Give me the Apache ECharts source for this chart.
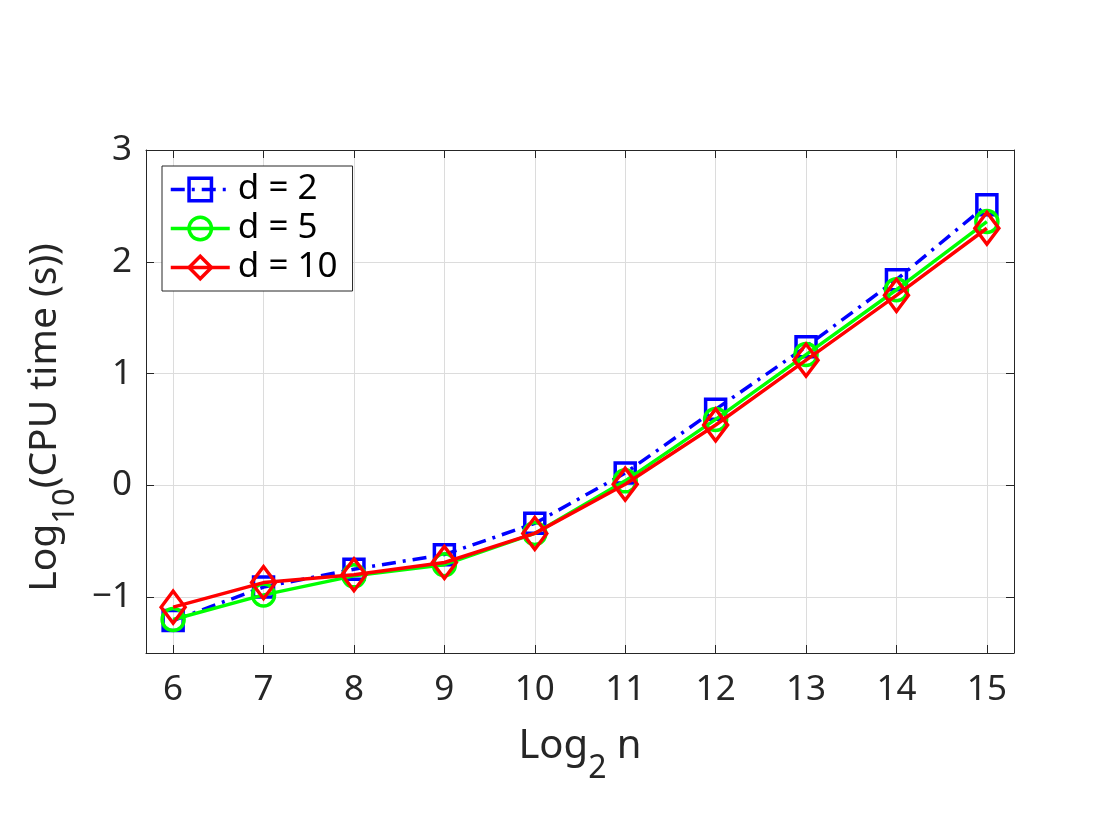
<!DOCTYPE html>
<html><head><meta charset="utf-8">
<script src="https://cdn.jsdelivr.net/npm/echarts@6/dist/echarts.min.js"></script>
<style>html,body{margin:0;padding:0;background:#fff}#c{width:1120px;height:840px}</style>
</head><body><div id="c"></div>
<script>
const xValues = [6, 7, 8, 9, 10, 11, 12, 13, 14, 15];
const d2 = [-1.21, -0.91, -0.75, -0.62, -0.34, 0.11, 0.68, 1.24, 1.84, 2.51];
const d5 = [-1.20, -0.98, -0.81, -0.71, -0.43, 0.04, 0.59, 1.17, 1.75, 2.36];
const d10 = [-1.09, -0.87, -0.80, -0.69, -0.43, 0.01, 0.54, 1.12, 1.70, 2.30];
const xTicks = [6, 7, 8, 9, 10, 11, 12, 13, 14, 15];
const yTicks = [-1, 0, 1, 2, 3];
const seriesNames = ['d = 2', 'd = 5', 'd = 10'];

const font = 'Noto Sans';
const axisColor = '#262626';
const pairs = arr => xValues.map((x, i) => [x, arr[i]]);

const titleRich = {
  a: {fontSize: 40, fontFamily: font, color: axisColor, verticalAlign: 'top'},
  b: {fontSize: 32, fontFamily: font, color: axisColor, verticalAlign: 'top', padding: [26, 0, 0, 0]}
};
const yTitleRich = {
  a: {fontSize: 39, fontFamily: font, color: axisColor, verticalAlign: 'top'},
  b: {fontSize: 31, fontFamily: font, color: axisColor, verticalAlign: 'top', padding: [25, 0, 0, 0]}
};

const baseX = {
  type: 'value', min: 5.7, max: 15.3,
  axisLine: {show: true, onZero: false, lineStyle: {color: axisColor, width: 1}},
  axisTick: {show: true, inside: true, length: 8, customValues: xTicks, lineStyle: {color: axisColor}},
  axisLabel: {customValues: xTicks, color: axisColor, fontSize: 35, fontFamily: font, margin: 20},
  splitLine: {show: true, lineStyle: {color: '#dcdcdc', width: 1}}
};
const baseY = {
  type: 'value', min: -1.5, max: 3,
  axisLine: {show: true, onZero: false, lineStyle: {color: axisColor, width: 1}},
  axisTick: {show: true, inside: true, length: 8, customValues: yTicks, lineStyle: {color: axisColor}},
  axisLabel: {customValues: yTicks, color: axisColor, fontSize: 35, fontFamily: font, margin: 14,
    formatter: v => (v < 0 ? '\u2212' + Math.abs(v) : String(v))},
  splitLine: {show: true, lineStyle: {color: '#dcdcdc', width: 1}}
};

const clear = 'rgba(255,255,255,0)';

const option = {
  backgroundColor: '#ffffff',
  animation: false,
  grid: {left: 146, right: 106, top: 150, bottom: 187, containLabel: false},
  xAxis: [
    Object.assign({}, baseX, {
      position: 'bottom',
      name: '{a|Log}{b|2}{a| n}',
      nameLocation: 'middle', nameGap: 74,
      nameTextStyle: {rich: titleRich}
    }),
    Object.assign({}, baseX, {
      position: 'top',
      axisLabel: {show: false},
      splitLine: {show: false}
    })
  ],
  yAxis: [
    Object.assign({}, baseY, {
      position: 'left',
      name: '{a|Log}{b|10}{a|(CPU time (s))}',
      nameLocation: 'middle', nameGap: 56, nameRotate: 90,
      nameTextStyle: {rich: yTitleRich, padding: [0, 32, 0, 0]}
    }),
    Object.assign({}, baseY, {
      position: 'right',
      axisLabel: {show: false},
      splitLine: {show: false}
    })
  ],
  legend: {
    orient: 'vertical', left: 162, top: 166,
    backgroundColor: '#ffffff', borderColor: '#262626', borderWidth: 1, borderRadius: 0,
    padding: [6, 15, 6, 7],
    itemWidth: 59, itemHeight: 28, itemGap: 4,
    itemStyle: {borderWidth: 3.5},
    lineStyle: {width: 3.5},
    textStyle: {fontSize: 35, fontFamily: font, color: '#000000', padding: [0, 0, 0, 3]},
    data: seriesNames
  },
  series: [
    {
      name: seriesNames[0], type: 'line', data: pairs(d2),
      symbol: 'rect', symbolSize: 20,
      lineStyle: {color: '#0000ff', width: 3.5, type: [14, 7, 3, 7]},
      itemStyle: {color: clear, borderColor: '#0000ff', borderWidth: 3.5},
      z: 2
    },
    {
      name: seriesNames[1], type: 'line', data: pairs(d5),
      symbol: 'circle', symbolSize: 22,
      lineStyle: {color: '#00ff00', width: 3.5},
      itemStyle: {color: clear, borderColor: '#00ff00', borderWidth: 3.5},
      z: 3
    },
    {
      name: seriesNames[2], type: 'line', data: pairs(d10),
      symbol: 'diamond', symbolSize: [24, 32],
      lineStyle: {color: '#ff0000', width: 3.5},
      itemStyle: {color: clear, borderColor: '#ff0000', borderWidth: 3.5},
      z: 4
    }
  ]
};
const chart = echarts.init(document.getElementById('c'), null, {renderer: 'canvas'});
chart.setOption(option);
</script>
</body></html>
